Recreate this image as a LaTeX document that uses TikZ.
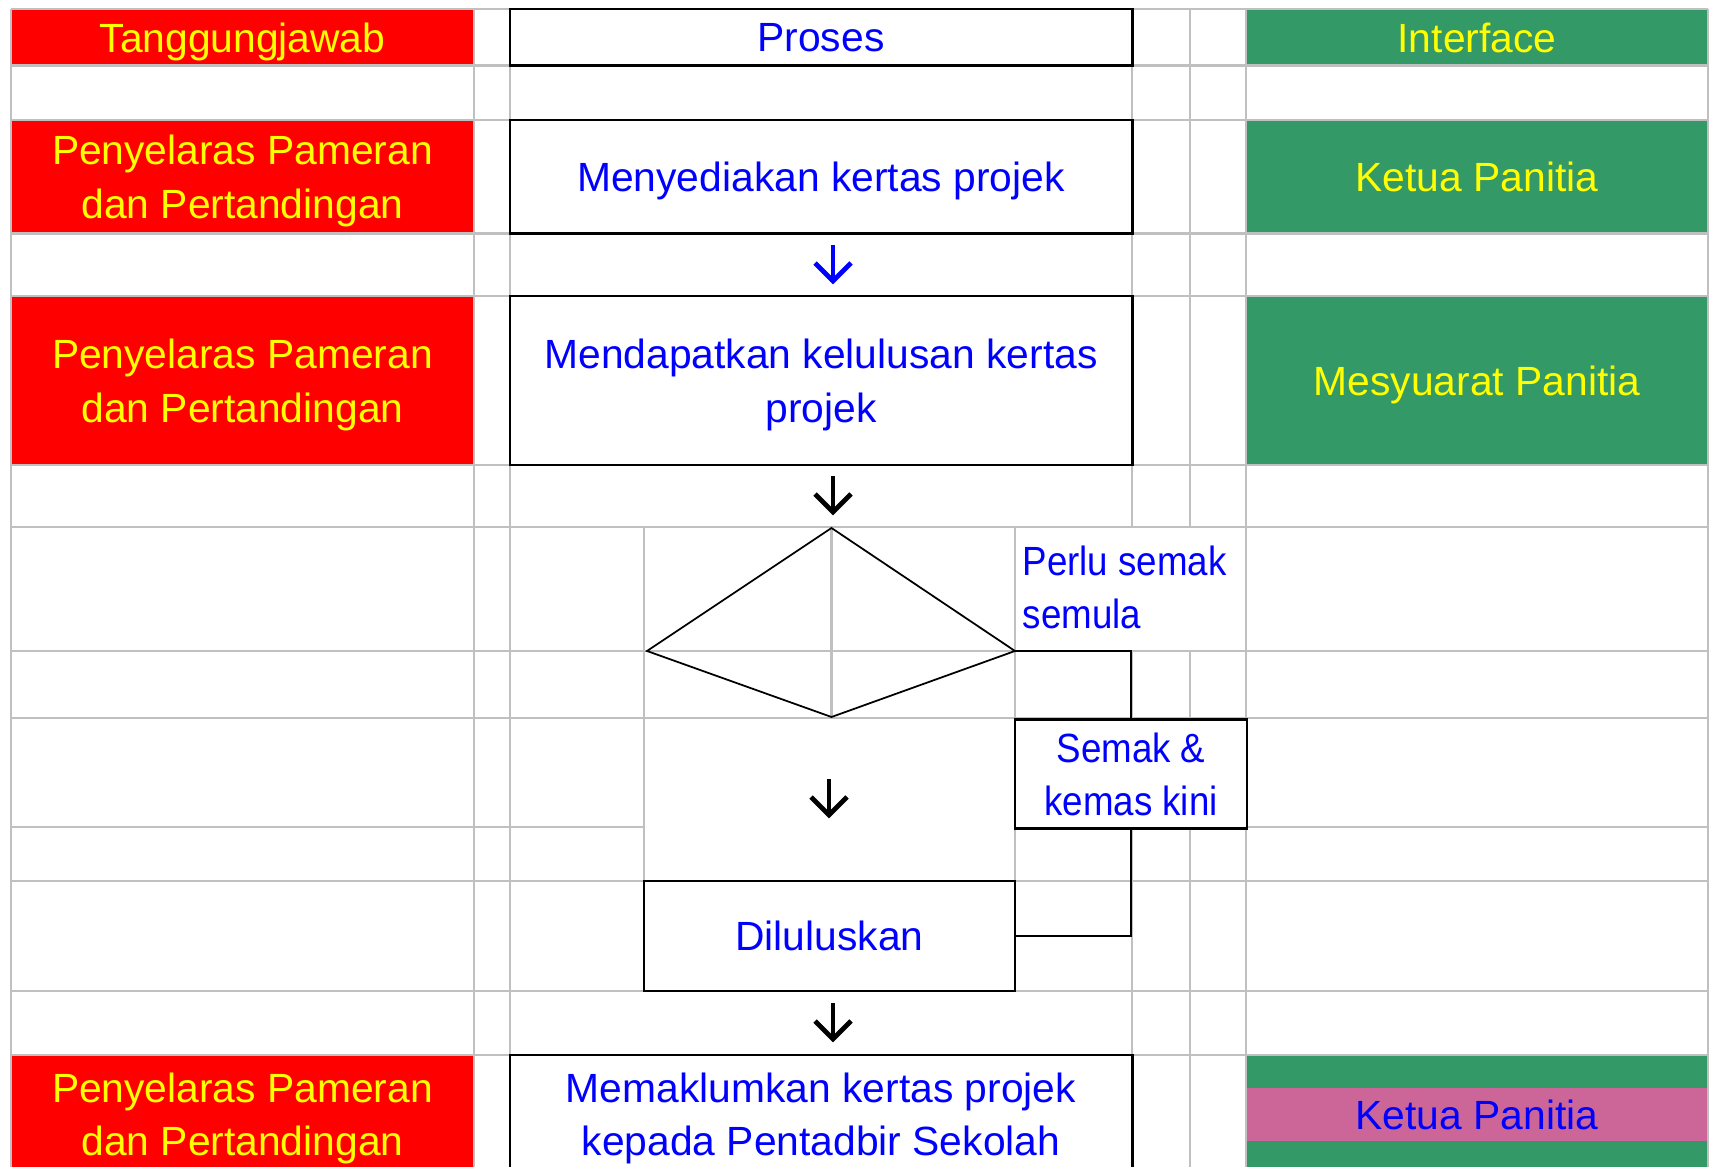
\documentclass[tikz,border=0pt]{standalone}
\usepackage{fontspec}
\setmainfont{Liberation Sans}
\newfontfamily\narrowsans[FakeStretch=0.9]{Liberation Sans}
\usetikzlibrary{arrows.meta,positioning,calc}
\definecolor{cellred}{HTML}{FF0000}
\definecolor{cellgreen}{HTML}{339966}
\definecolor{cellpink}{HTML}{CC6699}
\definecolor{celltext}{HTML}{FFFF00}
\definecolor{proctext}{HTML}{0000FF}
\definecolor{gridgrey}{HTML}{C0C0C0}

\begin{document}
\begin{tikzpicture}[
  x=0.01cm, y=-0.01cm,
  font=\fontsize{11.6}{15.2}\selectfont,
  grid/.style={draw=gridgrey, line width=0.6pt},
  cell/.style={inner sep=0pt, align=center, text depth=0pt, minimum width=4.62cm},
  resp/.style={cell, fill=cellred, text=celltext},
  iface/.style={cell, fill=cellgreen, text=celltext},
  proc/.style={draw, line width=0.75pt, fill=white, inner sep=0pt,
               align=center, text depth=0pt, text=proctext},
  link/.style={line width=0.7pt},
  glyph/.style={line width=1.4pt, miter limit=10},
]
\useasboundingbox (0,0) rectangle (1711,1167);
\clip (0,0) rectangle (1711,1167);
\fill[white] (0,0) rectangle (1711,1167);

%% ---------- Tanggungjawab column ----------
\node[resp, minimum height=0.565cm] (tg) at (242.5,37.25) {Tanggungjawab};
\node[resp, minimum height=1.135cm] (pp1) at (242.5,176.75) {Penyelaras Pameran\\dan Pertandingan};
\node[resp, minimum height=1.69cm] (pp2) at (242.5,380.5) {Penyelaras Pameran\\dan Pertandingan};
\node[resp, minimum height=1.18cm] (pp3) at (242.5,1114) {Penyelaras Pameran\\dan Pertandingan};

%% ---------- Interface column ----------
\node[iface, minimum height=0.565cm] (if) at (1477,37.25) {Interface};
\node[iface, minimum height=1.135cm] (kp1) at (1477,176.75) {Ketua Panitia};
\node[iface, minimum height=1.69cm] (mp) at (1477,380.5) {Mesyuarat Panitia};
\node[iface, minimum height=1.18cm] (kp2bg) at (1477,1114) {};
\node[cell, fill=cellpink, text=proctext, minimum height=0.53cm] (kp2) at (1477,1114.5) {Ketua Panitia};

%% ---------- grid ----------
\foreach \yy in {9,65.5,120,233.5,296,465,527,651,718,881,991,1055}
  \draw[grid] (11,\yy) -- (1708,\yy);
\draw[grid] (11,827) -- (644,827) (1015,827) -- (1708,827);
\foreach \xx in {11,474,510,1246,1708}
  \draw[grid] (\xx,9) -- (\xx,1167);
\draw[grid] (1132,9) -- (1132,527) (1132,651) -- (1132,1167);
\draw[grid] (1190,9) -- (1190,527) (1190,651) -- (1190,718) (1190,827) -- (1190,1167);
\draw[grid] (644,527) -- (644,881);
\draw[grid] (831.5,527) -- (831.5,718);
\draw[grid] (1015,527) -- (1015,718) (1015,827) -- (1015,881);

%% ---------- Proses column ----------
\node[proc, minimum width=6.22cm, minimum height=0.565cm] (pr) at (821,37.25) {Proses};
\node[proc, minimum width=6.22cm, minimum height=1.135cm] (p1) at (821,176.75) {Menyediakan kertas projek};
\node[proc, minimum width=6.22cm, minimum height=1.69cm] (p2) at (821,380.5) {Mendapatkan kelulusan kertas\\projek};
\node[proc, minimum width=6.22cm, minimum height=1.18cm] (p3) at (821,1114) {Memaklumkan kertas projek\\kepada Pentadbir Sekolah};

% decision
\coordinate (dT) at (831.5,528);
\coordinate (dL) at (647,651);
\coordinate (dR) at (1015,651);
\coordinate (dB) at (831.5,717);
\draw[line width=0.5pt] (dT) -- (dR) -- (dB) -- (dL) -- cycle;
\node[anchor=north west, inner sep=0pt, align=left, text=proctext,
      font=\narrowsans\fontsize{11.6}{15.2}\selectfont] (ps) at (1022,545) {Perlu semak\\semula};

\node[proc, minimum width=2.32cm, minimum height=1.09cm,
      font=\narrowsans\fontsize{11.6}{15.2}\selectfont] (semak) at (1131,774) {Semak \&\\kemas kini};
\node[proc, minimum width=3.71cm, minimum height=1.1cm] (dil) at (829.5,936) {Diluluskan};

\draw[link] (dR) -| (semak.north);
\draw[link] (semak.south) |- (dil.east);

% down-arrow glyphs in the empty cells
\foreach \n/\xx/\yy/\col in {a1/833/281/proctext, a2/833/512/black,
                             a3/829/815/black, a4/833/1039/black}{
  \coordinate (\n) at (\xx,\yy);
  \draw[glyph, \col] (\n) -- ++(0,-36);
  \draw[glyph, \col] ($(\n)+(-18,-18)$) -- (\n) -- ++(18,-18);
}

\end{tikzpicture}
\end{document}
